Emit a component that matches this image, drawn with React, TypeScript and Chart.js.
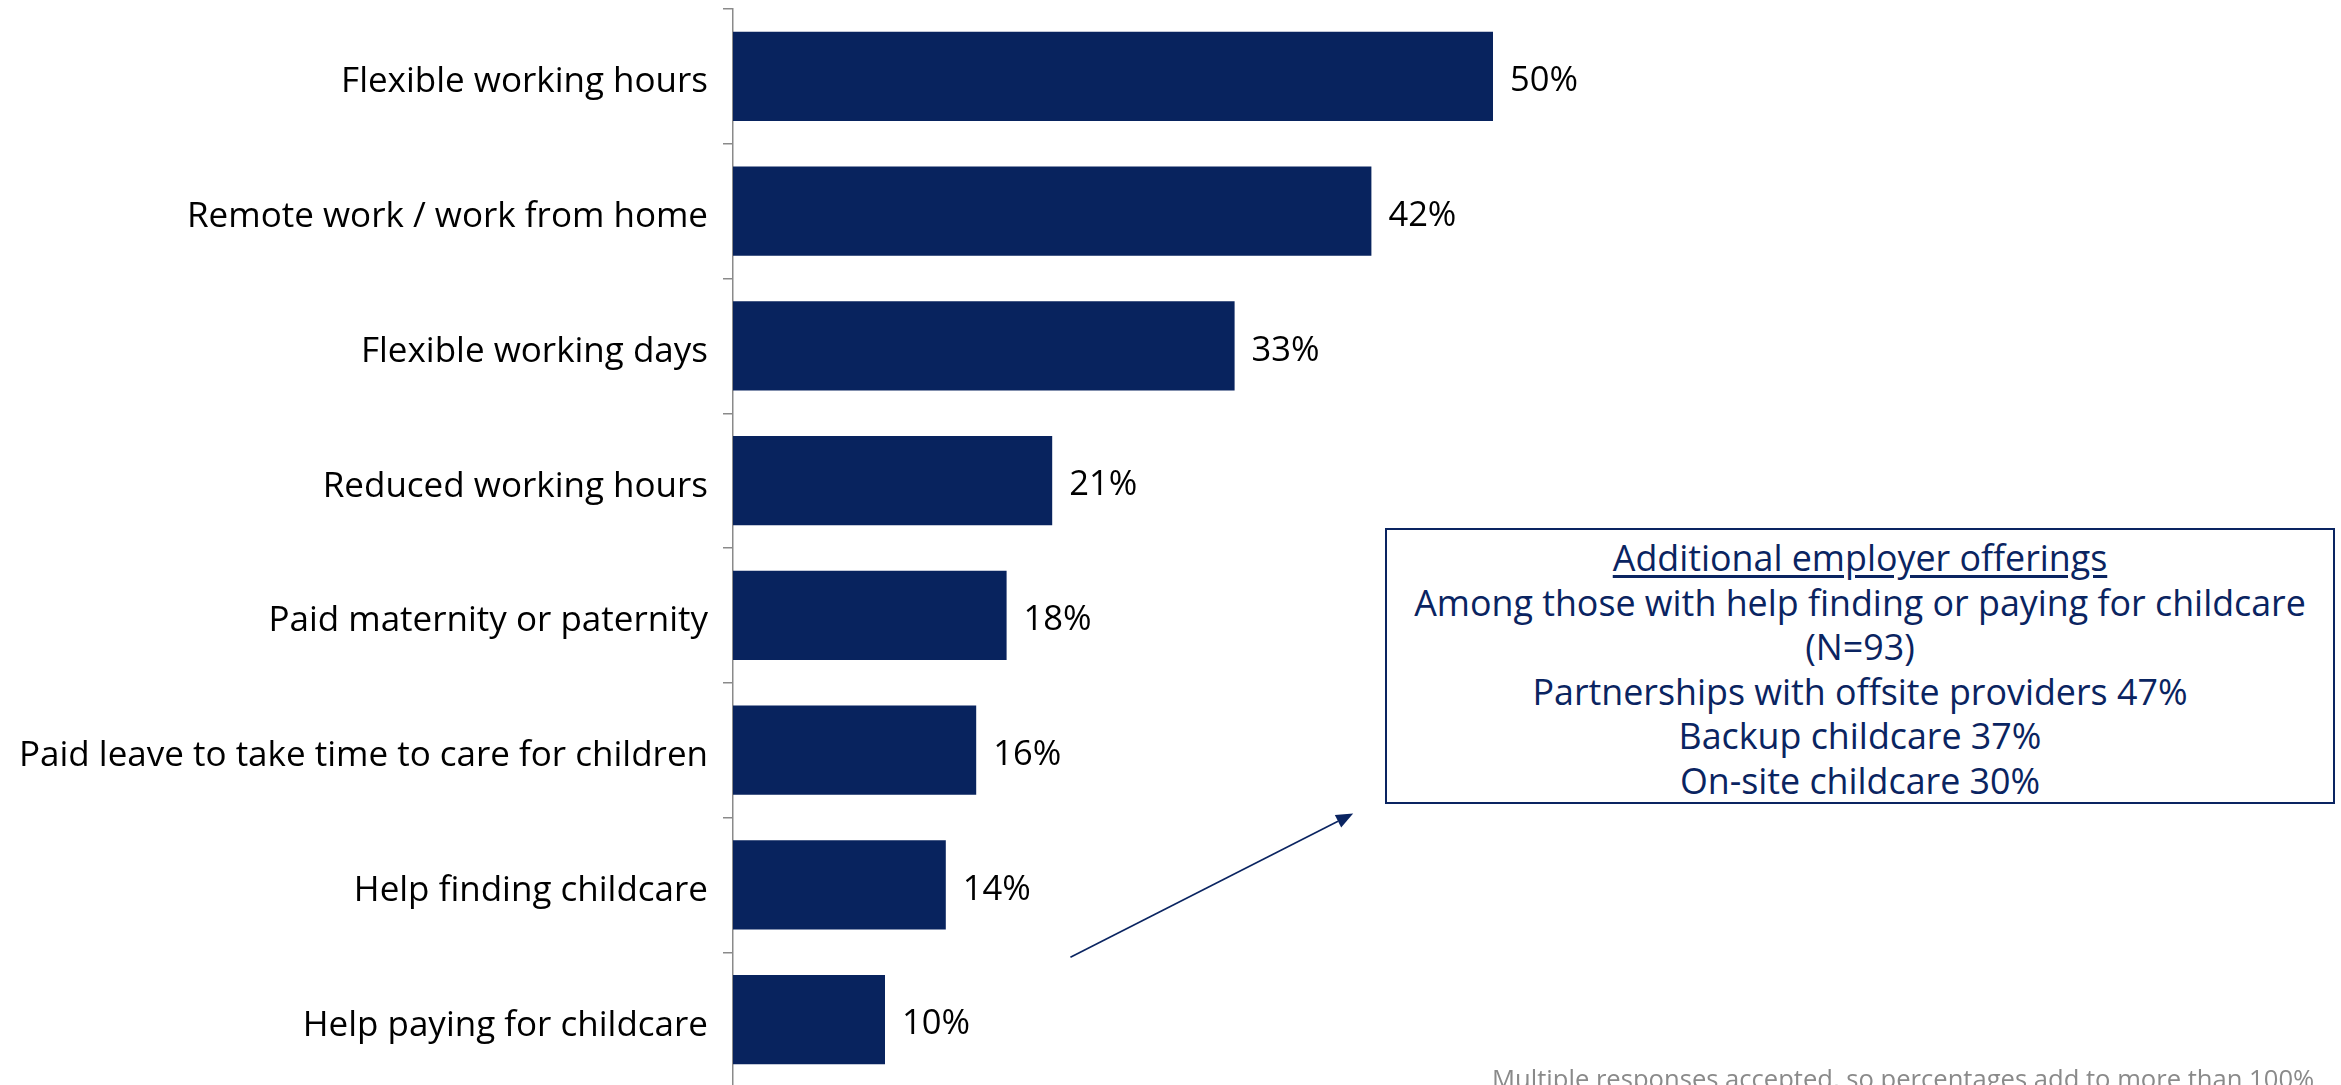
import React, { useEffect, useRef } from "react";
import { Chart, registerables } from "chart.js";

Chart.register(...registerables);

const categories = [
  "Flexible working hours",
  "Remote work / work from home",
  "Flexible working days",
  "Reduced working hours",
  "Paid maternity or paternity",
  "Paid leave to take time to care for children",
  "Help finding childcare",
  "Help paying for childcare",
];
const values = [50, 42, 33, 21, 18, 16, 14, 10];

const boxTitle = "Additional employer offerings";
const boxLines = [
  "Among those with help finding or paying for childcare",
  "(N=93)",
  "Partnerships with offsite providers 47%",
  "Backup childcare 37%",
  "On-site childcare 30%",
];
const footnote = "Multiple responses accepted, so percentages add to more than 100%";

const NAVY = "#0A2461";
const FONT = "'Open Sans', 'Noto Sans', sans-serif";

const valueLabelPlugin = {
  id: "valueLabels",
  afterDatasetsDraw(chart: any) {
    const ctx = chart.ctx;
    const meta = chart.getDatasetMeta(0);
    ctx.save();
    ctx.font = `34.5px ${FONT}`;
    ctx.fillStyle = "#000000";
    ctx.textAlign = "left";
    ctx.textBaseline = "middle";
    meta.data.forEach((bar: any, i: number) => {
      ctx.fillText(`${values[i]}%`, bar.x + 17, bar.y + 5);
    });
    ctx.restore();
  },
};

const arrowPlugin = {
  id: "arrow",
  afterDraw(chart: any) {
    const ctx = chart.ctx;
    const xs = chart.scales.x;
    const ys = chart.scales.y;
    const band = ys.getPixelForValue(1) - ys.getPixelForValue(0);
    const x1 = xs.getPixelForValue(22.2);
    const y1 = ys.getPixelForValue(6) + band / 2 + 5;
    const x2 = xs.getPixelForValue(40.8);
    const y2 = ys.getPixelForValue(5) + band / 2 - 4;
    const ang = Math.atan2(y2 - y1, x2 - x1);
    const headLen = 17;
    const headW = 7;
    ctx.save();
    ctx.strokeStyle = NAVY;
    ctx.fillStyle = NAVY;
    ctx.lineWidth = 1.6;
    ctx.beginPath();
    ctx.moveTo(x1, y1);
    ctx.lineTo(x2 - headLen * Math.cos(ang), y2 - headLen * Math.sin(ang));
    ctx.stroke();
    ctx.beginPath();
    ctx.moveTo(x2, y2);
    const bx = x2 - headLen * Math.cos(ang);
    const by = y2 - headLen * Math.sin(ang);
    ctx.lineTo(bx + headW * Math.sin(ang), by - headW * Math.cos(ang));
    ctx.lineTo(bx - headW * Math.sin(ang), by + headW * Math.cos(ang));
    ctx.closePath();
    ctx.fill();
    ctx.restore();
  },
};

export default function App() {
  const canvasRef = useRef<HTMLCanvasElement | null>(null);

  useEffect(() => {
    if (!canvasRef.current) return;
    const chart = new Chart(canvasRef.current, {
      type: "bar",
      data: {
        labels: categories,
        datasets: [
          {
            data: values,
            backgroundColor: "#08235E",
            borderWidth: 0,
            categoryPercentage: 1,
            barPercentage: 0.664,
          },
        ],
      },
      options: {
        indexAxis: "y",
        animation: false,
        responsive: false,
        maintainAspectRatio: false,
        events: [],
        layout: { padding: { top: 9, right: 88, bottom: 0, left: 0 } },
        plugins: {
          legend: { display: false },
          tooltip: { enabled: false },
          title: { display: false },
        },
        scales: {
          x: {
            display: false,
            min: 0,
            max: 100,
          },
          y: {
            afterFit(scale: any) {
              scale.width = 733;
              scale.paddingTop = 0;
              scale.paddingBottom = 0;
            },
            border: { display: true, color: "#8a8a8a", width: 1.5 },
            grid: {
              drawOnChartArea: false,
              drawTicks: true,
              tickLength: 10,
              color: "#8a8a8a",
              lineWidth: 1.5,
              offset: true,
            },
            ticks: {
              color: "#000000",
              padding: 15,
              labelOffset: 6,
              font: { family: FONT, size: 35 },
              autoSkip: false,
            },
          },
        },
      },
      plugins: [valueLabelPlugin, arrowPlugin],
    });
    return () => chart.destroy();
  }, []);

  return (
    <div
      style={{
        position: "fixed",
        left: 0,
        top: 0,
        width: 2341,
        height: 1085,
        overflow: "hidden",
        background: "#ffffff",
      }}
    >
      <canvas
        ref={canvasRef}
        width={2341}
        height={1087}
        style={{ position: "absolute", left: 0, top: 0, width: 2341, height: 1087 }}
      />
      <div
        style={{
          position: "absolute",
          left: 1385,
          top: 528,
          width: 950,
          height: 276,
          boxSizing: "border-box",
          border: `2px solid ${NAVY}`,
          color: NAVY,
          fontFamily: FONT,
          fontSize: 35.8,
          lineHeight: "44.6px",
          textAlign: "center",
          paddingTop: 5,
          background: "#ffffff",
          whiteSpace: "nowrap",
        }}
      >
        <div style={{ textDecoration: "underline", textUnderlineOffset: 4 }}>{boxTitle}</div>
        {boxLines.map((l, i) => (
          <div key={i}>{l}</div>
        ))}
      </div>
      <div
        style={{
          position: "absolute",
          left: 1492,
          top: 1061,
          fontFamily: FONT,
          fontSize: 25.6,
          color: "#8a8a8a",
          whiteSpace: "nowrap",
          lineHeight: "36px",
        }}
      >
        {footnote}
      </div>
    </div>
  );
}
